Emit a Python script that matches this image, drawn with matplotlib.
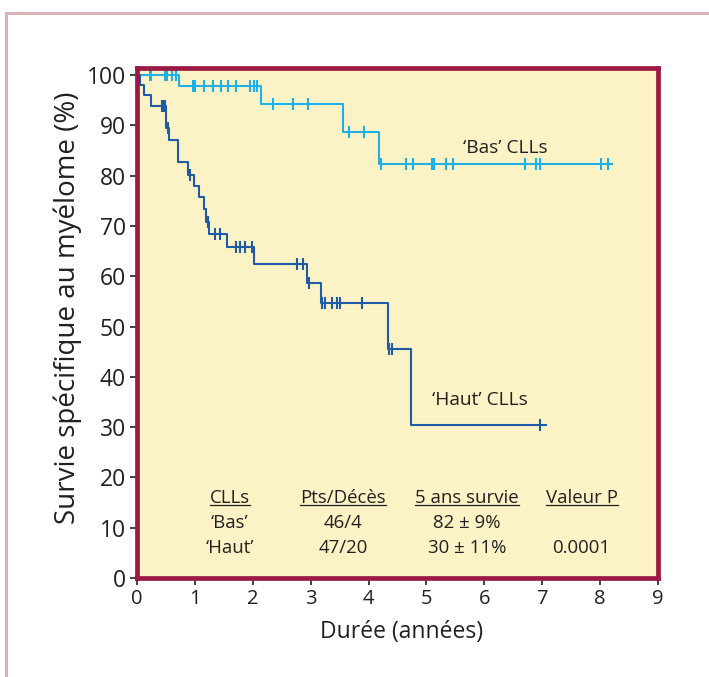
import matplotlib
matplotlib.use('Agg')
import matplotlib.pyplot as plt
import numpy as np
from matplotlib.lines import Line2D

plt.rcParams['font.family'] = ['Open Sans', 'DejaVu Sans']

# 'Bas' CLLs (light blue): step times / survival levels / censored times
bas_t = [0, 0.73, 2.14, 3.56, 4.18, 8.21]
bas_s = [100, 97.9, 94.2, 88.7, 82.3, 82.3]
bas_cens = [0.22, 0.25, 0.48, 0.52, 0.60, 0.68,
            0.97, 1.00, 1.15, 1.31, 1.46, 1.57, 1.71, 1.96, 2.03, 2.07,
            2.35, 2.70, 2.95, 3.67, 3.92,
            4.22, 4.64, 4.76, 5.10, 5.13, 5.33, 5.46, 6.70, 6.90, 6.97, 8.01, 8.14]

# 'Haut' CLLs (dark blue)
haut_t = [0, 0.05, 0.12, 0.25, 0.50, 0.55, 0.71, 0.89, 0.99, 1.08, 1.16, 1.20,
          1.25, 1.55, 2.02, 2.94, 3.18, 4.33, 4.74, 7.06]
haut_s = [100, 98.0, 96.0, 93.8, 89.4, 87.1, 82.8, 80.1, 77.9, 75.7, 73.3, 70.8,
          68.5, 65.9, 62.5, 58.6, 54.6, 45.5, 30.4, 30.4]
haut_cens = [0.43, 0.46, 0.48, 0.53, 0.91, 1.22, 1.35, 1.44,
             1.71, 1.78, 1.87, 1.99, 2.77, 2.87, 2.98,
             3.20, 3.24, 3.37, 3.46, 3.50, 3.89, 4.35, 4.41, 6.96]

# summary table
tab_head = ['CLLs', 'Pts/Décès', '5 ans survie', 'Valeur P']
tab_bas = ['\u2018Bas\u2019', '46/4', '82 \u00b1 9%', '']
tab_haut = ['\u2018Haut\u2019', '47/20', '30 \u00b1 11%', '0.0001']

light = '#1fb1e6'
dark = '#1f5ba6'
txt = '#231f20'
spine_col = '#9b1a45'


def level_at(t, s, x):
    idx = np.searchsorted(t, x, side='right') - 1
    return np.asarray(s)[idx]


fig = plt.figure(figsize=(7.09, 6.77), dpi=100)
ax = fig.add_axes([0.1932, 0.1462, 0.7348, 0.7533])
ax.set_facecolor('#fbf3c6')

for t, s, c, col in [(bas_t, bas_s, bas_cens, light), (haut_t, haut_s, haut_cens, dark)]:
    ax.step(t, s, where='post', color=col, lw=1.5, zorder=3)
    ax.plot(c, level_at(t, s, c), ls='none', marker='|', ms=8.5, mew=1.5, color=col, zorder=4)

ax.set_xlim(0, 9)
ax.set_ylim(0, 101.4)
ax.set_xticks(np.arange(0, 10, 1))
ax.set_yticks(np.arange(0, 101, 10))
ax.tick_params(direction='out', length=5, width=1.2, color=txt, labelcolor=txt, pad=3)
ax.tick_params(axis='x', labelsize=14.5)
ax.tick_params(axis='y', labelsize=16.5)
for sp in ax.spines.values():
    sp.set_color(spine_col)
    sp.set_linewidth(3.4)
    sp.set_zorder(5)

ax.set_xlabel('Durée (années)', fontsize=16.5, color=txt)
ax.set_ylabel('Survie spécifique au myélome (%)', fontsize=20, color=txt)
ax.xaxis.set_label_coords(0.508, -0.082)
ax.yaxis.set_label_coords(-0.106, 0.53)

ax.text(5.64, 84.6, '\u2018Bas\u2019 CLLs', fontsize=13.8, color=txt, va='baseline')
ax.text(5.10, 34.4, '\u2018Haut\u2019 CLLs', fontsize=13.8, color=txt, va='baseline')

col_x = [1.60, 3.56, 5.70, 7.68]
heads = []
for x, h, b, hh in zip(col_x, tab_head, tab_bas, tab_haut):
    heads.append(ax.text(x, 14.95, h, fontsize=13.4, color=txt, ha='center', va='baseline'))
    ax.text(x, 9.9, b, fontsize=13.4, color=txt, ha='center', va='baseline')
    ax.text(x, 4.9, hh, fontsize=13.4, color=txt, ha='center', va='baseline')

# outer frame (pink)
fig.add_artist(Line2D([6 / 709, 6 / 709, 1.0], [0.0, 1 - 13 / 677, 1 - 13 / 677],
                      transform=fig.transFigure, color='#d9b3b7', lw=2.2))

# underline the table headers
fig.canvas.draw()
r = fig.canvas.get_renderer()
inv = ax.transData.inverted()
for h in heads:
    bb = h.get_window_extent(r)
    (x0, _), (x1, _) = inv.transform([(bb.x0, 0), (bb.x1, 0)])
    ax.plot([x0, x1], [14.6, 14.6], color=txt, lw=0.9, zorder=3)

fig.savefig('out.png', dpi=100)
